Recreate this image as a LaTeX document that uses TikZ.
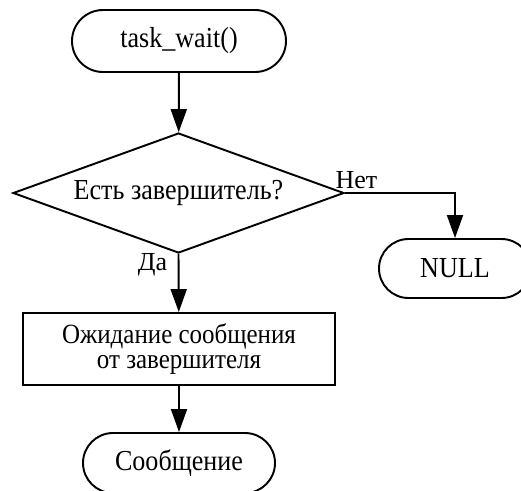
\documentclass[tikz,border=0pt]{standalone}
\usepackage{fontspec}
\setmainfont{Liberation Serif}
\newfontfamily\narrowfont{Liberation Serif}[FakeStretch=0.9]
\usetikzlibrary{shapes.geometric, shapes.misc, arrows.meta, positioning}

\begin{document}
\begin{tikzpicture}[
    line width=1.1pt,
    term/.style={draw, rounded rectangle, font=\narrowfont\fontsize{16.5}{16}\selectfont, inner sep=0pt},
    proc/.style={draw, rectangle, align=center, font=\narrowfont\fontsize{15.8}{14.4}\selectfont, inner sep=0pt},
    flow/.style={-{Triangle[length=0.46cm, width=0.32cm]}},
    lbl/.style={font=\fontsize{14.8}{15}\selectfont, inner sep=0pt}
]
    \useasboundingbox (0,0) rectangle (10.42,-9.8);

    % Start
    \node[term, minimum width=4.28cm, minimum height=1.24cm] (start) at (3.58,-0.82) {task\_wait()};

    % Decision
    \node[draw, diamond, shape aspect=2.77, inner sep=0pt, minimum width=6.62cm, minimum height=2.4cm,
          font=\narrowfont\fontsize{16.5}{16}\selectfont] (dec) at (3.57,-3.86) {Есть завершитель?};

    % No branch
    \node[term, minimum width=3.04cm, minimum height=1.18cm] (null) at (9.10,-5.37) {NULL};

    % Wait box
    \node[proc, minimum width=6.24cm, minimum height=1.44cm] (wait) at (3.58,-6.98) {Ожидание сообщения\\от завершителя};

    % Result
    \node[term, minimum width=3.84cm, minimum height=1.2cm] (msg) at (3.58,-9.26) {Сообщение};

    % Labels
    \node[lbl] (no) at (7.13,-3.6) {Нет};
    \node[lbl] (yes) at (3.05,-5.3) {Да};

    \draw[flow] (start) -- (dec);
    \draw[flow] (dec.east) -| (null.north);
    \draw[flow] (dec.south) -- (wait);
    \draw[flow] (wait) -- (msg);
\end{tikzpicture}
\end{document}
